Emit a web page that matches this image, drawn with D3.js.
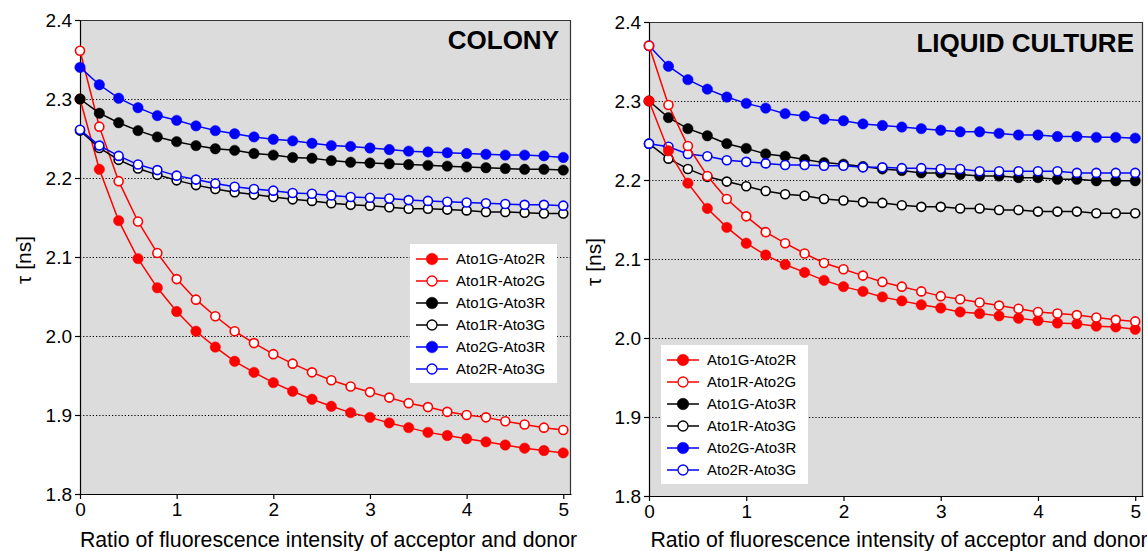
<!DOCTYPE html>
<html>
<head>
<meta charset="utf-8">
<script src="https://cdn.jsdelivr.net/npm/d3@7"></script>
<style>
  body { margin: 0; background: #fff; }
  svg { display: block; font-family: "Liberation Sans", Arial, Helvetica, sans-serif; }
</style>
</head>
<body>
<svg id="chart" width="1147" height="551"></svg>
<script>
// x values: ratio of acceptor / donor intensity
const ratio = [0, 0.2, 0.4, 0.6, 0.8, 1.0, 1.2, 1.4, 1.6, 1.8, 2.0, 2.2, 2.4, 2.6, 2.8,
               3.0, 3.2, 3.4, 3.6, 3.8, 4.0, 4.2, 4.4, 4.6, 4.8, 5.0];
const xTicks = [0, 1, 2, 3, 4, 5];
const yTicks = [1.8, 1.9, 2.0, 2.1, 2.2, 2.3, 2.4];
const gridTicks = [1.9, 2.0, 2.1, 2.2, 2.3];

const seriesNames = ["Ato1G-Ato2R", "Ato1R-Ato2G", "Ato1G-Ato3R", "Ato1R-Ato3G", "Ato2G-Ato3R", "Ato2R-Ato3G"];
const seriesColors = ["#ff0000", "#ff0000", "#000000", "#000000", "#0000ff", "#0000ff"];
const seriesFilled = [true, false, true, false, true, false];

// COLONY
const colonyA1GA2R = [2.300, 2.211, 2.146, 2.098, 2.061, 2.031, 2.006, 1.986, 1.968, 1.954, 1.941, 1.930, 1.920,
                      1.911, 1.903, 1.897, 1.890, 1.884, 1.878, 1.874, 1.870, 1.866, 1.862, 1.858, 1.855, 1.852];
const colonyA1RA2G = [2.361, 2.265, 2.196, 2.145, 2.105, 2.072, 2.046, 2.025, 2.006, 1.991, 1.977, 1.965, 1.954,
                      1.944, 1.936, 1.929, 1.922, 1.915, 1.910, 1.904, 1.900, 1.897, 1.892, 1.888, 1.884, 1.881];
const colonyA1GA3R = [2.300, 2.282, 2.270, 2.260, 2.252, 2.246, 2.241, 2.237, 2.235, 2.231, 2.229, 2.226, 2.225,
                      2.222, 2.220, 2.219, 2.218, 2.217, 2.216, 2.215, 2.214, 2.213, 2.212, 2.211, 2.211, 2.210];
const colonyA1RA3G = [2.260, 2.238, 2.223, 2.212, 2.204, 2.197, 2.191, 2.186, 2.182, 2.179, 2.176, 2.173, 2.171,
                      2.168, 2.166, 2.165, 2.163, 2.161, 2.161, 2.160, 2.159, 2.157, 2.157, 2.156, 2.155, 2.155];
const colonyA2GA3R = [2.340, 2.318, 2.301, 2.289, 2.279, 2.273, 2.266, 2.260, 2.256, 2.252, 2.249, 2.247, 2.244,
                      2.241, 2.240, 2.238, 2.236, 2.234, 2.233, 2.232, 2.231, 2.230, 2.229, 2.229, 2.228, 2.226];
const colonyA2RA3G = [2.261, 2.241, 2.228, 2.217, 2.210, 2.203, 2.198, 2.193, 2.189, 2.186, 2.184, 2.181, 2.180,
                      2.178, 2.176, 2.175, 2.174, 2.172, 2.171, 2.170, 2.169, 2.168, 2.167, 2.166, 2.166, 2.165];

// LIQUID CULTURE
const liquidA1GA2R = [2.300, 2.237, 2.196, 2.164, 2.140, 2.120, 2.105, 2.093, 2.083, 2.073, 2.065, 2.059, 2.052,
                      2.047, 2.042, 2.038, 2.033, 2.031, 2.028, 2.025, 2.022, 2.019, 2.018, 2.015, 2.014, 2.011];
const liquidA1RA2G = [2.370, 2.295, 2.243, 2.205, 2.176, 2.154, 2.134, 2.120, 2.107, 2.095, 2.087, 2.079, 2.071,
                      2.065, 2.059, 2.053, 2.049, 2.045, 2.041, 2.037, 2.033, 2.031, 2.029, 2.026, 2.023, 2.021];
const liquidA1GA3R = [2.300, 2.279, 2.265, 2.256, 2.246, 2.240, 2.233, 2.230, 2.226, 2.222, 2.220, 2.217, 2.214,
                      2.212, 2.209, 2.209, 2.207, 2.205, 2.205, 2.203, 2.203, 2.201, 2.201, 2.199, 2.199, 2.199];
const liquidA1RA3G = [2.246, 2.227, 2.214, 2.204, 2.198, 2.192, 2.186, 2.182, 2.180, 2.176, 2.174, 2.172, 2.171,
                      2.168, 2.166, 2.166, 2.164, 2.164, 2.162, 2.162, 2.160, 2.160, 2.160, 2.158, 2.158, 2.158];
const liquidA2GA3R = [2.370, 2.344, 2.327, 2.315, 2.305, 2.297, 2.291, 2.284, 2.281, 2.277, 2.275, 2.271, 2.269,
                      2.267, 2.265, 2.263, 2.261, 2.261, 2.259, 2.257, 2.257, 2.255, 2.255, 2.254, 2.254, 2.253];
const liquidA2RA3G = [2.246, 2.242, 2.233, 2.230, 2.225, 2.223, 2.221, 2.219, 2.219, 2.218, 2.218, 2.216, 2.216,
                      2.215, 2.215, 2.214, 2.214, 2.211, 2.211, 2.211, 2.211, 2.211, 2.209, 2.209, 2.209, 2.209];

const panels = [
    { title: "COLONY", left: 80, right: 571, top: 20, bottom: 494, titleX: 559, titleY: 49,
      yLabelX: 24, legendX: 410, legendY: 244, order: [0, 1, 2, 3, 4, 5],
      series: [colonyA1GA2R, colonyA1RA2G, colonyA1GA3R, colonyA1RA3G, colonyA2GA3R, colonyA2RA3G] },
    { title: "LIQUID CULTURE", left: 649, right: 1143, top: 22, bottom: 496, titleX: 1134, titleY: 52,
      yLabelX: 594, legendX: 661, legendY: 345, order: [2, 3, 4, 5, 0, 1],
      series: [liquidA1GA2R, liquidA1RA2G, liquidA1GA3R, liquidA1RA3G, liquidA2GA3R, liquidA2RA3G] }
];

const svg = d3.select("#chart");

function drawPanel(p) {
    const x = d3.scaleLinear().domain([0, 5.08]).range([p.left, p.right]);
    const y = d3.scaleLinear().domain([1.8, 2.4]).range([p.bottom, p.top]);
    const g = svg.append("g");

    // plot background
    g.append("rect")
        .attr("x", p.left).attr("y", p.top)
        .attr("width", p.right - p.left).attr("height", p.bottom - p.top)
        .attr("fill", "#dcdcdc");

    // dotted grid
    g.selectAll(".grid").data(gridTicks).enter().append("line")
        .attr("x1", p.left).attr("x2", p.right)
        .attr("y1", d => y(d) + 0.5).attr("y2", d => y(d) + 0.5)
        .attr("stroke", "#000").attr("stroke-width", 1.2)
        .attr("stroke-dasharray", "1.2,2");

    // top / right frame
    g.append("path")
        .attr("d", `M${p.left},${p.top + 0.5}H${p.right - 0.5}V${p.bottom}`)
        .attr("fill", "none").attr("stroke", "#333").attr("stroke-width", 1.2);

    // axes
    const yAxis = d3.axisLeft(y).tickValues(yTicks).tickFormat(d3.format(".1f"))
        .tickSizeInner(5).tickSizeOuter(0).tickPadding(3);
    const xAxis = d3.axisBottom(x).tickValues(xTicks).tickFormat(d3.format("d"))
        .tickSizeInner(5).tickSizeOuter(0).tickPadding(4);

    const ya = g.append("g").attr("transform", `translate(${p.left},0)`).call(yAxis);
    const xa = g.append("g").attr("transform", `translate(0,${p.bottom})`).call(xAxis);
    [ya, xa].forEach(a => {
        a.select(".domain").attr("stroke", "#000").attr("stroke-width", 1.2);
        a.selectAll(".tick line").attr("stroke", "#000").attr("stroke-width", 1.2);
        a.selectAll(".tick text").attr("fill", "#000").style("font-size", "19px")
            .style("font-family", '"Liberation Sans", Arial, sans-serif');
    });

    // series
    const line = d3.line().x((d, i) => x(ratio[i])).y(d => y(d));
    p.order.forEach(k => {
        const vals = p.series[k];
        const sg = g.append("g");
        sg.append("path").datum(vals)
            .attr("d", line)
            .attr("fill", "none")
            .attr("stroke", seriesColors[k])
            .attr("stroke-width", 1.5);
        sg.selectAll("circle").data(vals).enter().append("circle")
            .attr("cx", (d, i) => x(ratio[i]))
            .attr("cy", d => y(d))
            .attr("r", seriesFilled[k] ? 5.2 : 4.5)
            .attr("fill", seriesFilled[k] ? seriesColors[k] : "#fff")
            .attr("stroke", seriesColors[k])
            .attr("stroke-width", seriesFilled[k] ? 0.5 : 1.6);
    });

    // panel title
    g.append("text")
        .attr("x", p.titleX).attr("y", p.titleY)
        .attr("text-anchor", "end")
        .style("font-size", "26px").style("font-weight", "bold")
        .text(p.title);

    // axis titles
    g.append("text")
        .attr("transform", `translate(${p.yLabelX},${(p.top + p.bottom) / 2 + 3}) rotate(-90)`)
        .attr("text-anchor", "middle")
        .attr("dy", "0.35em")
        .style("font-size", "21px")
        .text("τ [ns]");

    g.append("text")
        .attr("x", (p.left + p.right) / 2 + 3).attr("y", 547)
        .attr("text-anchor", "middle")
        .style("font-size", "21.3px")
        .text("Ratio of fluorescence intensity of acceptor and donor");

    // legend
    const lg = g.append("g").attr("transform", `translate(${p.legendX},${p.legendY})`);
    lg.append("rect").attr("width", 147).attr("height", 139).attr("fill", "#fff");
    seriesNames.forEach((name, k) => {
        const ry = 15 + k * 22;
        lg.append("line").attr("x1", 6).attr("x2", 38).attr("y1", ry).attr("y2", ry)
            .attr("stroke", seriesColors[k]).attr("stroke-width", 1.5);
        lg.append("circle").attr("cx", 22).attr("cy", ry)
            .attr("r", seriesFilled[k] ? 5.8 : 5)
            .attr("fill", seriesFilled[k] ? seriesColors[k] : "#fff")
            .attr("stroke", seriesColors[k])
            .attr("stroke-width", seriesFilled[k] ? 0.5 : 1.3);
        lg.append("text").attr("x", 46).attr("y", ry).attr("dy", "0.35em")
            .style("font-size", "15px").text(name);
    });
}

panels.forEach(drawPanel);
</script>
</body>
</html>
